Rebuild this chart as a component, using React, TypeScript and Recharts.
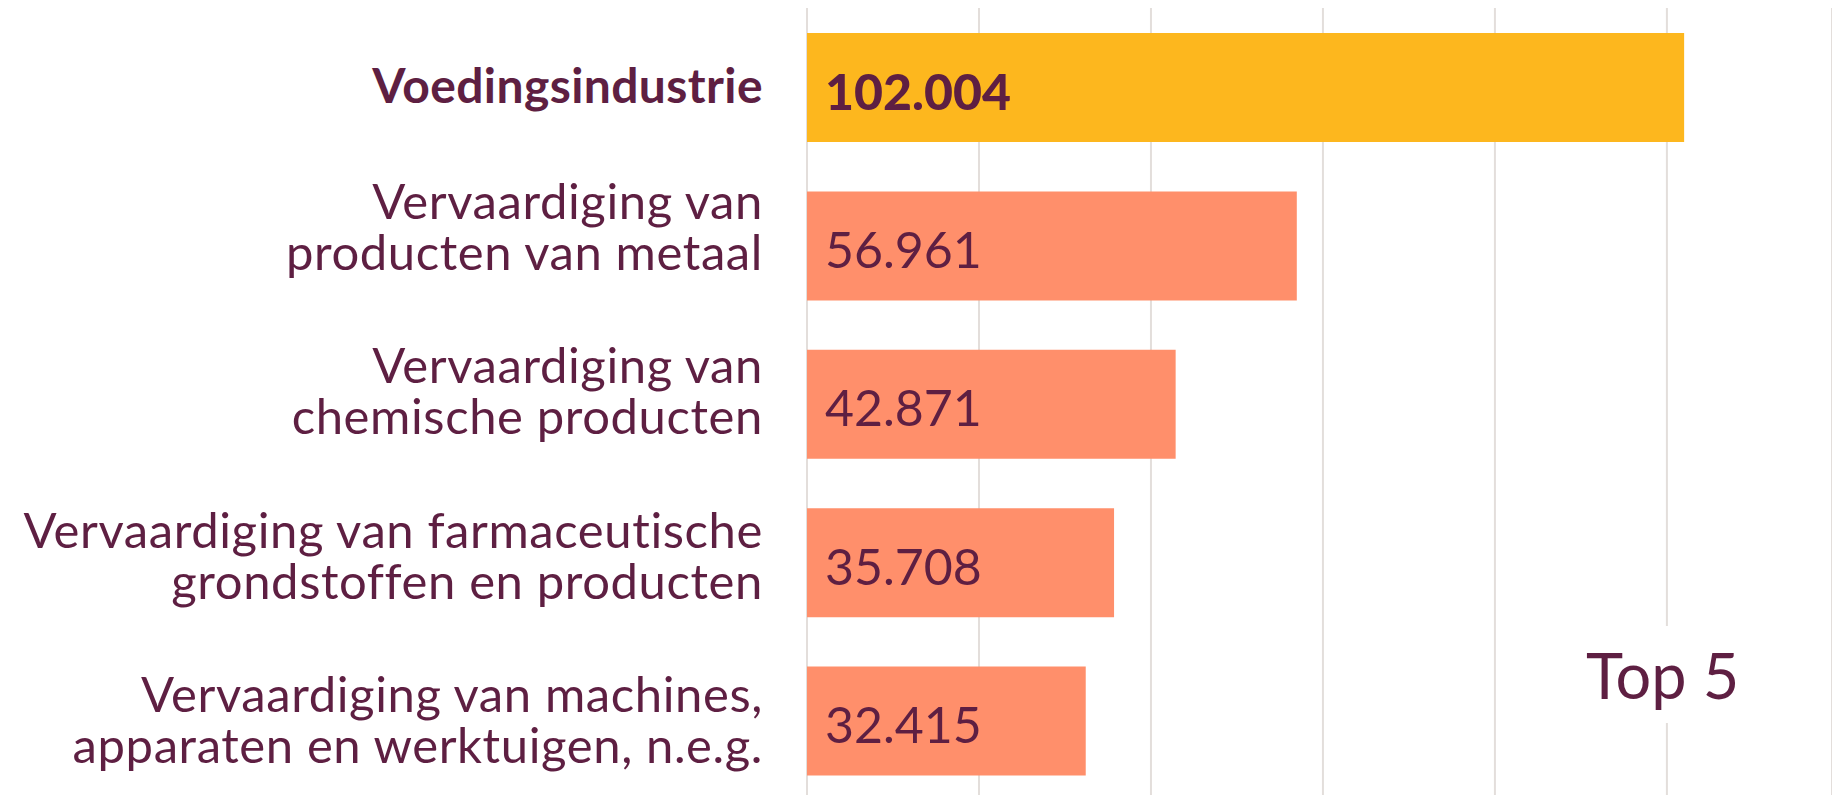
import React from 'react';
import { BarChart, Bar, XAxis, YAxis, CartesianGrid, Cell, LabelList } from 'recharts';

const categories = [
  'Voedingsindustrie',
  'Vervaardiging van producten van metaal',
  'Vervaardiging van chemische producten',
  'Vervaardiging van farmaceutische grondstoffen en producten',
  'Vervaardiging van machines, apparaten en werktuigen, n.e.g.',
];
const categoryLines = [
  ['Voedingsindustrie'],
  ['Vervaardiging van', 'producten van metaal'],
  ['Vervaardiging van', 'chemische producten'],
  ['Vervaardiging van farmaceutische', 'grondstoffen en producten'],
  ['Vervaardiging van machines,', 'apparaten en werktuigen, n.e.g.'],
];
const employees = [102004, 56961, 42871, 35708, 32415];
const xTicks = [0, 20000, 40000, 60000, 80000, 100000];
const title = 'Top 5';

const data = categories.map((name, i) => ({ name, value: employees[i] }));

const TEXT = '#5e1f42';
const FONT = 'Lato, "Open Sans", sans-serif';

const formatNl = (v: number) => String(v).replace(/\B(?=(\d{3})+(?!\d))/g, '.');

const CategoryTick = (props: any) => {
  const { x, y, payload } = props;
  const idx = categories.indexOf(payload.value);
  const lines = categoryLines[idx] || [payload.value];
  const tx = x - 44;
  if (lines.length === 1) {
    return (
      <text x={tx} y={y + 16} textAnchor="end" fill={TEXT} fontFamily={FONT} fontSize={48} fontWeight={700} letterSpacing={0.4}>
        {lines[0]}
      </text>
    );
  }
  const first = y - 33 + idx * 6.1;
  return (
    <text textAnchor="end" fill={TEXT} fontFamily={FONT} fontSize={49} fontWeight={400} letterSpacing={0.6}>
      {lines.map((l, i) => (
        <tspan key={i} x={tx} y={first + i * 51}>{l}</tspan>
      ))}
    </text>
  );
};

const ValueLabel = (props: any) => {
  const { x, y, height, value, index } = props;
  return (
    <text
      x={x + 18}
      y={y + height / 2 + 22}
      fill={TEXT}
      fontFamily={FONT}
      fontSize={50}
      fontWeight={index === 0 ? 900 : 400}
    >
      {formatNl(value)}
    </text>
  );
};

export default function App() {
  return (
    <div style={{ position: 'absolute', left: 0, top: 0, width: 1832, height: 795, overflow: 'hidden', background: '#fff' }}>
      <BarChart
        width={1832}
        height={800}
        data={data}
        layout="vertical"
        margin={{ top: 8, right: 0, bottom: 0, left: 0 }}
        barSize={109}
      >
        <CartesianGrid horizontal={false} vertical stroke="#e3dedb" strokeWidth={2} />
        <XAxis type="number" hide domain={[0, 119200]} ticks={xTicks} />
        <YAxis
          type="category"
          dataKey="name"
          width={807}
          axisLine={false}
          tickLine={false}
          tickSize={0}
          tickMargin={0}
          tick={<CategoryTick />}
          interval={0}
        />
        <Bar dataKey="value" isAnimationActive={false}>
          {data.map((d, i) => (
            <Cell key={d.name} fill={i === 0 ? '#fdb71e' : '#ff8f6b'} />
          ))}
          <LabelList dataKey="value" content={<ValueLabel />} />
        </Bar>
      </BarChart>
      <div
        style={{
          position: 'absolute',
          left: 1578,
          top: 626,
          height: 97,
          padding: '0 8px',
          background: '#fff',
          color: TEXT,
          fontFamily: FONT,
          fontSize: 63,
          lineHeight: '97px',
        }}
      >
        {title}
      </div>
    </div>
  );
}
